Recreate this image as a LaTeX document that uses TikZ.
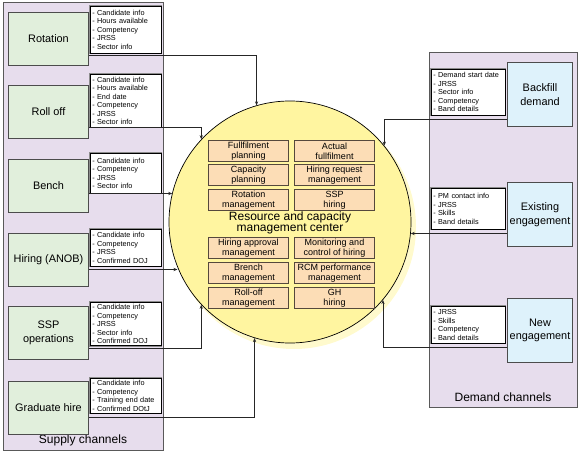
\documentclass[tikz,border=0pt]{standalone}
\usepackage{fontspec}
\setmainfont{Liberation Sans}
\definecolor{PanelLilac} {RGB}{231,221,237}
\definecolor{SupplyGreen}{RGB}{225,239,220}
\definecolor{DemandBlue} {RGB}{222,242,251}
\definecolor{CentreYellow}{RGB}{255,245,160}
\definecolor{GlowYellow} {RGB}{255,250,205}
\definecolor{TaskPeach}  {RGB}{252,221,182}
\definecolor{TaskEdge}   {RGB}{85,72,60}
\usetikzlibrary{arrows.meta,calc}

\tikzset{
  panel/.style={draw=black!65,line width=1pt,fill=PanelLilac},
  chanbox/.style={draw=black!70,line width=1pt,anchor=north west,
    inner sep=0pt,align=center,font=\fontsize{10.9}{13.5}\selectfont},
  supplybox/.style={chanbox,fill=SupplyGreen,minimum width=80pt,minimum height=53pt},
  demandbox/.style={chanbox,fill=DemandBlue,minimum width=65pt,minimum height=64pt},
  infobox/.style={draw=black,line width=0.5pt,fill=white,
    preaction={draw=black!45,line width=2pt},anchor=north west,
    inner sep=2pt,align=left,font=\fontsize{7.3}{8.5}\selectfont},
  taskbox/.style={draw=TaskEdge,line width=1pt,fill=TaskPeach,anchor=north west,
    minimum width=80pt,minimum height=21pt,inner sep=0pt,align=center,
    font=\fontsize{9}{9.6}\selectfont},
  link/.style={draw=black!85,line width=0.7pt,-{Stealth[length=4pt,width=3.2pt]}},
}

\begin{document}
\begin{tikzpicture}[x=1pt,y=-1pt]
  \useasboundingbox (0,0) rectangle (580,454);
  % Channel panels
  \draw[panel] (3,3) rectangle (163,450);
  \draw[panel] (429,53) rectangle (577,407);
  \node[font=\fontsize{12}{14}\selectfont] (supplylbl) at (83,440) {Supply channels};
  \node[font=\fontsize{12}{14}\selectfont] (demandlbl) at (503,397) {Demand channels};

  % Resource and capacity management center
  \fill[GlowYellow] (294,227) circle (122);
  \node[circle,draw=black,line width=0.7pt,fill=CentreYellow,minimum size=242pt,
        inner sep=0pt] (rcmc) at (290,222) {};
  \node[align=center,font=\fontsize{12}{11.5}\selectfont] (rcmctitle) at (290,223)
       {Resource and capacity\\management center};
  \node[taskbox] (fulplan) at (208,140) {Fullfilment\\planning};
  \node[taskbox] (actful)  at (294,140) {Actual\\fullfilment};
  \node[taskbox] (capplan) at (208,164) {Capacity\\planning};
  \node[taskbox] (hirereq) at (294,164) {Hiring request\\management};
  \node[taskbox] (rotmgmt) at (208,189) {Rotation\\management};
  \node[taskbox] (ssphire) at (294,189) {SSP\\hiring};
  \node[taskbox] (hireapp) at (208,237) {Hiring approval\\management};
  \node[taskbox] (monhire) at (294,237) {Monitoring and\\control of hiring};
  \node[taskbox] (brmgmt)  at (208,262) {Brench\\management};
  \node[taskbox] (rcmperf) at (294,262) {RCM performance\\management};
  \node[taskbox] (rollmgmt) at (208,287) {Roll-off\\management};
  \node[taskbox] (ghhire)  at (294,287) {GH\\hiring};

  % Supply channels
  \node[supplybox] (rotation) at (8,12)  {Rotation};
  \node[supplybox] (rolloff)  at (8,85)  {Roll off};
  \node[supplybox] (bench)    at (8,159) {Bench};
  \node[supplybox] (hiring)   at (8,233) {Hiring (ANOB)};
  \node[supplybox] (sspops)   at (8,306) {SSP\\operations};
  \node[supplybox] (gradhire) at (8,381) {Graduate hire};
  \node[infobox,text width=67pt,minimum height=47pt] (rotinfo) at (90,6)
       {- Candidate info\\- Hours available\\- Competency\\- JRSS\\- Sector info};
  \node[infobox,text width=67pt,minimum height=53pt] (rollinfo) at (90,74)
       {- Candidate info\\- Hours available\\- End date\\- Competency\\- JRSS\\- Sector info};
  \node[infobox,text width=67pt,minimum height=40pt] (benchinfo) at (90,153)
       {- Candidate info\\- Competency\\- JRSS\\- Sector info};
  \node[infobox,text width=67pt,minimum height=37pt] (hireinfo) at (90,229)
       {- Candidate info\\- Competency\\- JRSS\\- Confirmed DOJ};
  \node[infobox,text width=67pt,minimum height=41pt] (sspinfo) at (90,302)
       {- Candidate info\\- Competency\\- JRSS\\- Sector info\\- Confirmed DOJ};
  \node[infobox,text width=67pt,minimum height=35pt] (gradinfo) at (90,378)
       {- Candidate info\\- Competency\\- Training end date\\- Confirmed DOtJ};

  % Demand channels
  \node[demandbox] (backfill) at (507,62)  {Backfill\\demand};
  \node[demandbox] (existing) at (507,182) {Existing\\engagement};
  \node[demandbox] (neweng)   at (507,298) {New\\engagement};
  \node[infobox,text width=70pt,minimum height=46pt] (bfinfo) at (431,69)
       {- Demand start date\\- JRSS\\- Sector info\\- Competency\\- Band details};
  \node[infobox,text width=70pt,minimum height=41pt] (exinfo) at (431,188)
       {- PM contact info\\- JRSS\\- Skills\\- Band details};
  \node[infobox,text width=70pt,minimum height=37pt] (newinfo) at (431,306)
       {- JRSS\\- Skills\\- Competency\\- Band details};

  % Connectors into the center
  \coordinate (rotout)   at ($(rotation.east |- rotinfo.south)+(0,2)$);
  \coordinate (rollout)  at (rolloff.east |- rollinfo.south);
  \coordinate (benchout) at (bench.east |- benchinfo.south);
  \coordinate (hireout)  at ($(hiring.east |- hireinfo.south)+(0,3)$);
  \coordinate (sspout)   at ($(sspops.east |- sspinfo.south)+(0,2)$);
  \coordinate (gradout)  at ($(gradhire.east |- gradinfo.south)+(0,4)$);
  \coordinate (bfout)    at ($(backfill.west |- bfinfo.south)+(0,4)$);
  \coordinate (exout)    at ($(existing.west |- exinfo.south)+(0,4)$);
  \coordinate (newout)   at ($(neweng.west |- newinfo.south)+(0,4)$);
  \draw[link] (rotout) -| (rcmc.106);
  \draw[link] (rollout) -| (rcmc.137);
  \draw[link] (benchout) -- (benchout -| rcmc.166);
  \draw[link] (hireout) -- (hireout -| rcmc.202);
  \draw[link] (sspout) -| (rcmc.223);
  \draw[link] (gradout) -| (rcmc.253);
  \draw[link] (bfout) -| (rcmc.39);
  \draw[link] (exout) -- (exout -| rcmc.354);
  \draw[link] (newout) -| (rcmc.320);
\end{tikzpicture}
\end{document}
